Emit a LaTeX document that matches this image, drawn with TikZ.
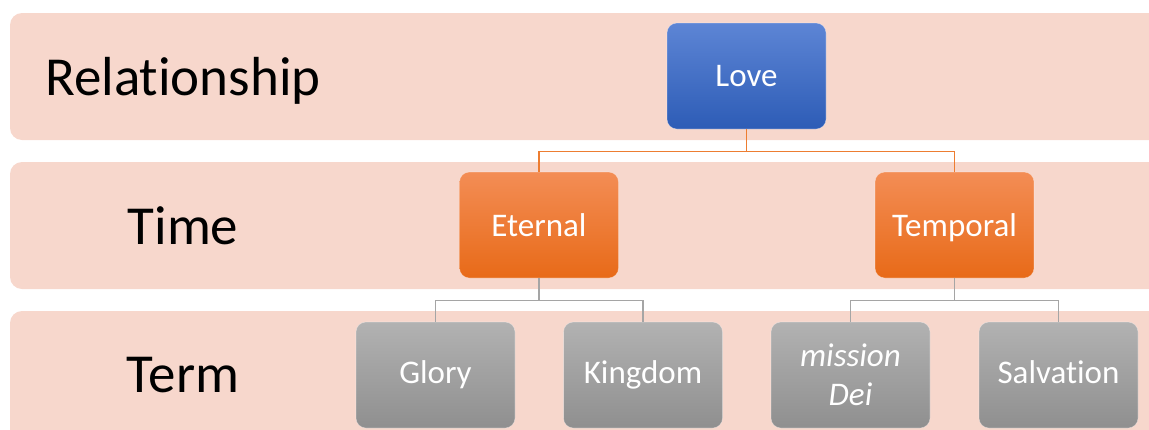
\documentclass[tikz,border=0pt]{standalone}
\usepackage{fontspec}
\setmainfont{Carlito}[Ligatures=NoCommon]
\definecolor{bandc}{HTML}{F7D7CC}
\definecolor{blueT}{HTML}{5D85D5}
\definecolor{blueB}{HTML}{2D5CB6}
\definecolor{orT}{HTML}{F38D55}
\definecolor{orB}{HTML}{E86A18}
\definecolor{grT}{HTML}{B2B2B2}
\definecolor{grB}{HTML}{8F8F8F}
\definecolor{orline}{HTML}{ED7D31}
\definecolor{grline}{HTML}{A5A5A5}
\begin{document}
\begin{tikzpicture}[x=1pt,y=-1pt,
  band/.style={fill=bandc,draw=none,rounded corners=12pt},
  lbl/.style={anchor=base,font=\fontsize{55}{60}\selectfont,text=black},
  box/.style={minimum width=159pt,minimum height=106pt,rounded corners=10pt,inner sep=0pt,
    text=white,font=\fontsize{33}{40}\selectfont,align=center,draw=white,draw opacity=0.35,line width=0.6pt},
  bluebox/.style={box,top color=blueT,bottom color=blueB,text height=21pt,text depth=-1pt},
  orbox/.style={box,top color=orT,bottom color=orB,text height=22pt,text depth=-2pt},
  grbox/.style={box,top color=grT,bottom color=grB},
  oneline/.style={text height=20pt,text depth=4pt},
  orconn/.style={draw=orline,line width=1.3pt},
  grconn/.style={draw=grline,line width=1.3pt}]
\useasboundingbox (0,0) rectangle (1149,429);
\clip (0,0) rectangle (1149,429);
\fill[band] (10,13) rectangle (1180,140);
\fill[band] (10,162) rectangle (1180,289);
\fill[band] (10,311) rectangle (1180,460);
\node[lbl] (lrel) at (183,95) {Relationship};
\node[lbl] (ltime) at (183,244) {Time};
\node[lbl] (lterm) at (183,392) {Term};
\node[bluebox] (love) at (746.5,76) {Love};
\node[orbox] (eternal) at (539,225) {Eternal};
\node[orbox] (temporal) at (954.5,225) {Temporal};
\node[grbox,oneline] (glory) at (435.5,375) {Glory};
\node[grbox,oneline] (kingdom) at (643,375) {Kingdom};
\node[grbox] (mission) at (850.5,375) {\itshape mission\\[-1pt]\itshape Dei};
\node[grbox,oneline] (salv) at (1058.5,375) {Salvation};
\draw[orconn] (love.south) -- ++(0,22) -| (eternal.north);
\draw[orconn] (love.south) -- ++(0,22) -| (temporal.north);
\draw[grconn] (eternal.south) -- ++(0,22) -| (glory.north);
\draw[grconn] (eternal.south) -- ++(0,22) -| (kingdom.north);
\draw[grconn] (temporal.south) -- ++(0,22) -| (mission.north);
\draw[grconn] (temporal.south) -- ++(0,22) -| (salv.north);
\end{tikzpicture}
\end{document}
